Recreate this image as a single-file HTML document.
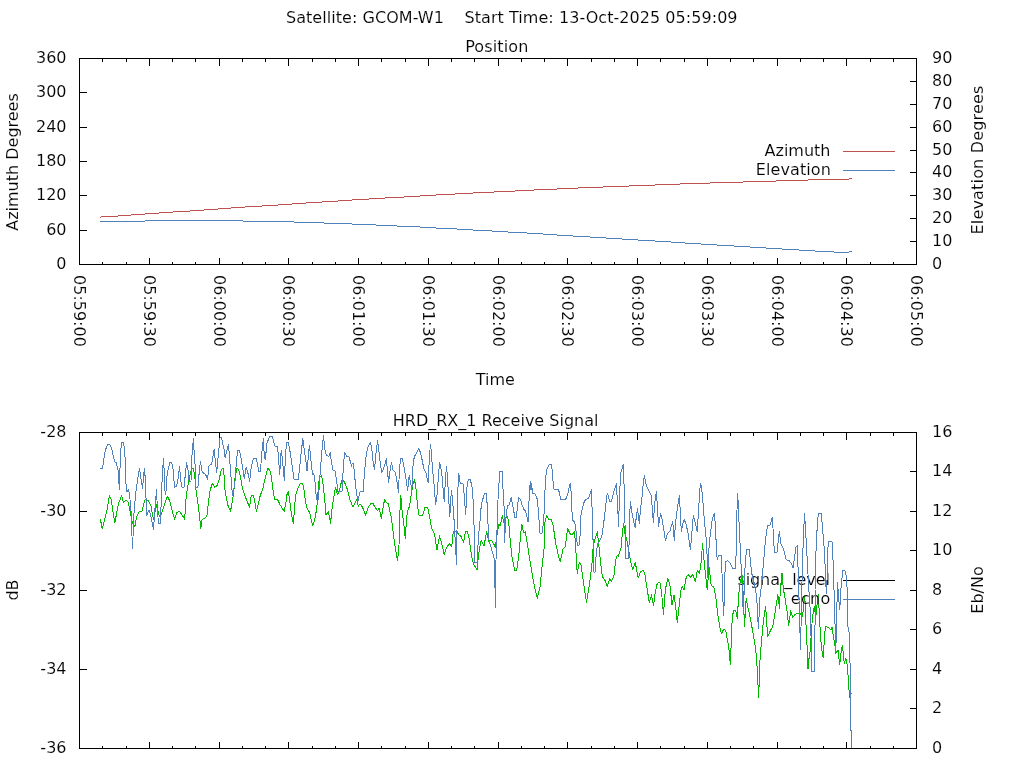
<!DOCTYPE html>
<html><head><meta charset="utf-8"><title>Satellite pass plot</title>
<style>html,body{margin:0;padding:0;background:#fff}svg{display:block}text{font-family:"DejaVu Sans","Liberation Sans",sans-serif;font-size:16px;fill:#000;stroke:#fff;stroke-width:0.12px}</style></head><body>
<svg width="1024" height="768" viewBox="0 0 1024 768">
<rect width="1024" height="768" fill="#fff"/>
<g shape-rendering="crispEdges" stroke-width="1" fill="none" transform="translate(0.5,0.5)">
<rect x="79" y="58" width="837" height="206" stroke="#000"/>
<line x1="102" y1="264" x2="102" y2="261" stroke="#000"/>
<line x1="102" y1="58" x2="102" y2="61" stroke="#000"/>
<line x1="126" y1="264" x2="126" y2="261" stroke="#000"/>
<line x1="126" y1="58" x2="126" y2="61" stroke="#000"/>
<line x1="149" y1="264" x2="149" y2="257" stroke="#000"/>
<line x1="149" y1="58" x2="149" y2="65" stroke="#000"/>
<line x1="172" y1="264" x2="172" y2="261" stroke="#000"/>
<line x1="172" y1="58" x2="172" y2="61" stroke="#000"/>
<line x1="195" y1="264" x2="195" y2="261" stroke="#000"/>
<line x1="195" y1="58" x2="195" y2="61" stroke="#000"/>
<line x1="219" y1="264" x2="219" y2="257" stroke="#000"/>
<line x1="219" y1="58" x2="219" y2="65" stroke="#000"/>
<line x1="242" y1="264" x2="242" y2="261" stroke="#000"/>
<line x1="242" y1="58" x2="242" y2="61" stroke="#000"/>
<line x1="265" y1="264" x2="265" y2="261" stroke="#000"/>
<line x1="265" y1="58" x2="265" y2="61" stroke="#000"/>
<line x1="288" y1="264" x2="288" y2="257" stroke="#000"/>
<line x1="288" y1="58" x2="288" y2="65" stroke="#000"/>
<line x1="312" y1="264" x2="312" y2="261" stroke="#000"/>
<line x1="312" y1="58" x2="312" y2="61" stroke="#000"/>
<line x1="335" y1="264" x2="335" y2="261" stroke="#000"/>
<line x1="335" y1="58" x2="335" y2="61" stroke="#000"/>
<line x1="358" y1="264" x2="358" y2="257" stroke="#000"/>
<line x1="358" y1="58" x2="358" y2="65" stroke="#000"/>
<line x1="381" y1="264" x2="381" y2="261" stroke="#000"/>
<line x1="381" y1="58" x2="381" y2="61" stroke="#000"/>
<line x1="405" y1="264" x2="405" y2="261" stroke="#000"/>
<line x1="405" y1="58" x2="405" y2="61" stroke="#000"/>
<line x1="428" y1="264" x2="428" y2="257" stroke="#000"/>
<line x1="428" y1="58" x2="428" y2="65" stroke="#000"/>
<line x1="451" y1="264" x2="451" y2="261" stroke="#000"/>
<line x1="451" y1="58" x2="451" y2="61" stroke="#000"/>
<line x1="474" y1="264" x2="474" y2="261" stroke="#000"/>
<line x1="474" y1="58" x2="474" y2="61" stroke="#000"/>
<line x1="498" y1="264" x2="498" y2="257" stroke="#000"/>
<line x1="498" y1="58" x2="498" y2="65" stroke="#000"/>
<line x1="521" y1="264" x2="521" y2="261" stroke="#000"/>
<line x1="521" y1="58" x2="521" y2="61" stroke="#000"/>
<line x1="544" y1="264" x2="544" y2="261" stroke="#000"/>
<line x1="544" y1="58" x2="544" y2="61" stroke="#000"/>
<line x1="567" y1="264" x2="567" y2="257" stroke="#000"/>
<line x1="567" y1="58" x2="567" y2="65" stroke="#000"/>
<line x1="591" y1="264" x2="591" y2="261" stroke="#000"/>
<line x1="591" y1="58" x2="591" y2="61" stroke="#000"/>
<line x1="614" y1="264" x2="614" y2="261" stroke="#000"/>
<line x1="614" y1="58" x2="614" y2="61" stroke="#000"/>
<line x1="637" y1="264" x2="637" y2="257" stroke="#000"/>
<line x1="637" y1="58" x2="637" y2="65" stroke="#000"/>
<line x1="660" y1="264" x2="660" y2="261" stroke="#000"/>
<line x1="660" y1="58" x2="660" y2="61" stroke="#000"/>
<line x1="684" y1="264" x2="684" y2="261" stroke="#000"/>
<line x1="684" y1="58" x2="684" y2="61" stroke="#000"/>
<line x1="707" y1="264" x2="707" y2="257" stroke="#000"/>
<line x1="707" y1="58" x2="707" y2="65" stroke="#000"/>
<line x1="730" y1="264" x2="730" y2="261" stroke="#000"/>
<line x1="730" y1="58" x2="730" y2="61" stroke="#000"/>
<line x1="753" y1="264" x2="753" y2="261" stroke="#000"/>
<line x1="753" y1="58" x2="753" y2="61" stroke="#000"/>
<line x1="777" y1="264" x2="777" y2="257" stroke="#000"/>
<line x1="777" y1="58" x2="777" y2="65" stroke="#000"/>
<line x1="800" y1="264" x2="800" y2="261" stroke="#000"/>
<line x1="800" y1="58" x2="800" y2="61" stroke="#000"/>
<line x1="823" y1="264" x2="823" y2="261" stroke="#000"/>
<line x1="823" y1="58" x2="823" y2="61" stroke="#000"/>
<line x1="846" y1="264" x2="846" y2="257" stroke="#000"/>
<line x1="846" y1="58" x2="846" y2="65" stroke="#000"/>
<line x1="870" y1="264" x2="870" y2="261" stroke="#000"/>
<line x1="870" y1="58" x2="870" y2="61" stroke="#000"/>
<line x1="893" y1="264" x2="893" y2="261" stroke="#000"/>
<line x1="893" y1="58" x2="893" y2="61" stroke="#000"/>
<rect x="79" y="432" width="837" height="316" stroke="#000"/>
<line x1="102" y1="748" x2="102" y2="745" stroke="#000"/>
<line x1="102" y1="432" x2="102" y2="435" stroke="#000"/>
<line x1="126" y1="748" x2="126" y2="745" stroke="#000"/>
<line x1="126" y1="432" x2="126" y2="435" stroke="#000"/>
<line x1="149" y1="748" x2="149" y2="741" stroke="#000"/>
<line x1="149" y1="432" x2="149" y2="439" stroke="#000"/>
<line x1="172" y1="748" x2="172" y2="745" stroke="#000"/>
<line x1="172" y1="432" x2="172" y2="435" stroke="#000"/>
<line x1="195" y1="748" x2="195" y2="745" stroke="#000"/>
<line x1="195" y1="432" x2="195" y2="435" stroke="#000"/>
<line x1="219" y1="748" x2="219" y2="741" stroke="#000"/>
<line x1="219" y1="432" x2="219" y2="439" stroke="#000"/>
<line x1="242" y1="748" x2="242" y2="745" stroke="#000"/>
<line x1="242" y1="432" x2="242" y2="435" stroke="#000"/>
<line x1="265" y1="748" x2="265" y2="745" stroke="#000"/>
<line x1="265" y1="432" x2="265" y2="435" stroke="#000"/>
<line x1="288" y1="748" x2="288" y2="741" stroke="#000"/>
<line x1="288" y1="432" x2="288" y2="439" stroke="#000"/>
<line x1="312" y1="748" x2="312" y2="745" stroke="#000"/>
<line x1="312" y1="432" x2="312" y2="435" stroke="#000"/>
<line x1="335" y1="748" x2="335" y2="745" stroke="#000"/>
<line x1="335" y1="432" x2="335" y2="435" stroke="#000"/>
<line x1="358" y1="748" x2="358" y2="741" stroke="#000"/>
<line x1="358" y1="432" x2="358" y2="439" stroke="#000"/>
<line x1="381" y1="748" x2="381" y2="745" stroke="#000"/>
<line x1="381" y1="432" x2="381" y2="435" stroke="#000"/>
<line x1="405" y1="748" x2="405" y2="745" stroke="#000"/>
<line x1="405" y1="432" x2="405" y2="435" stroke="#000"/>
<line x1="428" y1="748" x2="428" y2="741" stroke="#000"/>
<line x1="428" y1="432" x2="428" y2="439" stroke="#000"/>
<line x1="451" y1="748" x2="451" y2="745" stroke="#000"/>
<line x1="451" y1="432" x2="451" y2="435" stroke="#000"/>
<line x1="474" y1="748" x2="474" y2="745" stroke="#000"/>
<line x1="474" y1="432" x2="474" y2="435" stroke="#000"/>
<line x1="498" y1="748" x2="498" y2="741" stroke="#000"/>
<line x1="498" y1="432" x2="498" y2="439" stroke="#000"/>
<line x1="521" y1="748" x2="521" y2="745" stroke="#000"/>
<line x1="521" y1="432" x2="521" y2="435" stroke="#000"/>
<line x1="544" y1="748" x2="544" y2="745" stroke="#000"/>
<line x1="544" y1="432" x2="544" y2="435" stroke="#000"/>
<line x1="567" y1="748" x2="567" y2="741" stroke="#000"/>
<line x1="567" y1="432" x2="567" y2="439" stroke="#000"/>
<line x1="591" y1="748" x2="591" y2="745" stroke="#000"/>
<line x1="591" y1="432" x2="591" y2="435" stroke="#000"/>
<line x1="614" y1="748" x2="614" y2="745" stroke="#000"/>
<line x1="614" y1="432" x2="614" y2="435" stroke="#000"/>
<line x1="637" y1="748" x2="637" y2="741" stroke="#000"/>
<line x1="637" y1="432" x2="637" y2="439" stroke="#000"/>
<line x1="660" y1="748" x2="660" y2="745" stroke="#000"/>
<line x1="660" y1="432" x2="660" y2="435" stroke="#000"/>
<line x1="684" y1="748" x2="684" y2="745" stroke="#000"/>
<line x1="684" y1="432" x2="684" y2="435" stroke="#000"/>
<line x1="707" y1="748" x2="707" y2="741" stroke="#000"/>
<line x1="707" y1="432" x2="707" y2="439" stroke="#000"/>
<line x1="730" y1="748" x2="730" y2="745" stroke="#000"/>
<line x1="730" y1="432" x2="730" y2="435" stroke="#000"/>
<line x1="753" y1="748" x2="753" y2="745" stroke="#000"/>
<line x1="753" y1="432" x2="753" y2="435" stroke="#000"/>
<line x1="777" y1="748" x2="777" y2="741" stroke="#000"/>
<line x1="777" y1="432" x2="777" y2="439" stroke="#000"/>
<line x1="800" y1="748" x2="800" y2="745" stroke="#000"/>
<line x1="800" y1="432" x2="800" y2="435" stroke="#000"/>
<line x1="823" y1="748" x2="823" y2="745" stroke="#000"/>
<line x1="823" y1="432" x2="823" y2="435" stroke="#000"/>
<line x1="846" y1="748" x2="846" y2="741" stroke="#000"/>
<line x1="846" y1="432" x2="846" y2="439" stroke="#000"/>
<line x1="870" y1="748" x2="870" y2="745" stroke="#000"/>
<line x1="870" y1="432" x2="870" y2="435" stroke="#000"/>
<line x1="893" y1="748" x2="893" y2="745" stroke="#000"/>
<line x1="893" y1="432" x2="893" y2="435" stroke="#000"/>
<line x1="79" y1="230" x2="86" y2="230" stroke="#000"/>
<line x1="79" y1="195" x2="86" y2="195" stroke="#000"/>
<line x1="79" y1="161" x2="86" y2="161" stroke="#000"/>
<line x1="79" y1="127" x2="86" y2="127" stroke="#000"/>
<line x1="79" y1="92" x2="86" y2="92" stroke="#000"/>
<line x1="916" y1="241" x2="909" y2="241" stroke="#000"/>
<line x1="916" y1="218" x2="909" y2="218" stroke="#000"/>
<line x1="916" y1="195" x2="909" y2="195" stroke="#000"/>
<line x1="916" y1="172" x2="909" y2="172" stroke="#000"/>
<line x1="916" y1="150" x2="909" y2="150" stroke="#000"/>
<line x1="916" y1="127" x2="909" y2="127" stroke="#000"/>
<line x1="916" y1="104" x2="909" y2="104" stroke="#000"/>
<line x1="916" y1="81" x2="909" y2="81" stroke="#000"/>
<line x1="79" y1="669" x2="86" y2="669" stroke="#000"/>
<line x1="79" y1="590" x2="86" y2="590" stroke="#000"/>
<line x1="79" y1="511" x2="86" y2="511" stroke="#000"/>
<line x1="916" y1="708" x2="909" y2="708" stroke="#000"/>
<line x1="916" y1="669" x2="909" y2="669" stroke="#000"/>
<line x1="916" y1="629" x2="909" y2="629" stroke="#000"/>
<line x1="916" y1="590" x2="909" y2="590" stroke="#000"/>
<line x1="916" y1="550" x2="909" y2="550" stroke="#000"/>
<line x1="916" y1="511" x2="909" y2="511" stroke="#000"/>
<line x1="916" y1="471" x2="909" y2="471" stroke="#000"/>
</g>
<g opacity="0.999"><text x="511.8" y="23" text-anchor="middle" style="white-space:pre" letter-spacing="0.05">Satellite: GCOM-W1    Start Time: 13-Oct-2025 05:59:09</text>
<text x="496.8" y="52" text-anchor="middle" letter-spacing="0.12">Position</text>
<text x="495.3" y="385" text-anchor="middle">Time</text>
<text x="495.6" y="426" text-anchor="middle">HRD_RX_1 Receive Signal</text>
<text x="66.5" y="269" text-anchor="end">0</text>
<text x="66.5" y="235" text-anchor="end">60</text>
<text x="66.5" y="200" text-anchor="end">120</text>
<text x="66.5" y="166" text-anchor="end">180</text>
<text x="66.5" y="132" text-anchor="end">240</text>
<text x="66.5" y="97" text-anchor="end">300</text>
<text x="66.5" y="63" text-anchor="end">360</text>
<text x="932" y="269" text-anchor="start">0</text>
<text x="932" y="246" text-anchor="start">10</text>
<text x="932" y="223" text-anchor="start">20</text>
<text x="932" y="200" text-anchor="start">30</text>
<text x="932" y="177" text-anchor="start">40</text>
<text x="932" y="155" text-anchor="start">50</text>
<text x="932" y="132" text-anchor="start">60</text>
<text x="932" y="109" text-anchor="start">70</text>
<text x="932" y="86" text-anchor="start">80</text>
<text x="932" y="63" text-anchor="start">90</text>
<text x="66.5" y="753" text-anchor="end">-36</text>
<text x="66.5" y="674" text-anchor="end">-34</text>
<text x="66.5" y="595" text-anchor="end">-32</text>
<text x="66.5" y="516" text-anchor="end">-30</text>
<text x="66.5" y="437" text-anchor="end">-28</text>
<text x="932" y="753" text-anchor="start">0</text>
<text x="932" y="713" text-anchor="start">2</text>
<text x="932" y="674" text-anchor="start">4</text>
<text x="932" y="634" text-anchor="start">6</text>
<text x="932" y="595" text-anchor="start">8</text>
<text x="932" y="555" text-anchor="start">10</text>
<text x="932" y="516" text-anchor="start">12</text>
<text x="932" y="476" text-anchor="start">14</text>
<text x="932" y="437" text-anchor="start">16</text>
<text transform="translate(74,275) rotate(90)" text-anchor="start">05:59:00</text>
<text transform="translate(144,275) rotate(90)" text-anchor="start">05:59:30</text>
<text transform="translate(214,275) rotate(90)" text-anchor="start">06:00:00</text>
<text transform="translate(283,275) rotate(90)" text-anchor="start">06:00:30</text>
<text transform="translate(353,275) rotate(90)" text-anchor="start">06:01:00</text>
<text transform="translate(423,275) rotate(90)" text-anchor="start">06:01:30</text>
<text transform="translate(493,275) rotate(90)" text-anchor="start">06:02:00</text>
<text transform="translate(562,275) rotate(90)" text-anchor="start">06:02:30</text>
<text transform="translate(632,275) rotate(90)" text-anchor="start">06:03:00</text>
<text transform="translate(702,275) rotate(90)" text-anchor="start">06:03:30</text>
<text transform="translate(772,275) rotate(90)" text-anchor="start">06:04:00</text>
<text transform="translate(841,275) rotate(90)" text-anchor="start">06:04:30</text>
<text transform="translate(911,275) rotate(90)" text-anchor="start">06:05:00</text>
<text transform="translate(18,162) rotate(-90)" text-anchor="middle">Azimuth Degrees</text>
<text transform="translate(983,160) rotate(-90)" text-anchor="middle" letter-spacing="0.18">Elevation Degrees</text>
<text transform="translate(18,590) rotate(-90)" text-anchor="middle">dB</text>
<text transform="translate(983,590) rotate(-90)" text-anchor="middle">Eb/No</text>
<text x="830.5" y="156" text-anchor="end">Azimuth</text>
<text x="831" y="175" text-anchor="end" letter-spacing="0.1">Elevation</text>
<text x="829.8" y="585" text-anchor="end" letter-spacing="-0.08">signal_level</text></g>
<g shape-rendering="crispEdges" stroke-width="1" fill="none" transform="translate(0.5,0.5)">
<line x1="842.5" y1="151" x2="894.5" y2="151" stroke="#C0504D"/>
<line x1="842.5" y1="170" x2="894.5" y2="170" stroke="#4F81BD"/>
<line x1="842.5" y1="580" x2="894.5" y2="580" stroke="#000"/>
</g>
<g shape-rendering="crispEdges" stroke-width="1" fill="none">
<path d="M100,217.5h1M101,216.5h17M118,215.5h13M131,214.5h14M145,213.5h14M159,212.5h14M173,211.5h17M190,210.5h14M204,209.5h14M218,208.5h13M231,207.5h14M245,206.5h17M262,205.5h16M278,204.5h14M292,203.5h14M306,202.5h16M322,201.5h16M338,200.5h14M352,199.5h17M369,198.5h16M385,197.5h19M404,196.5h16M420,195.5h16M436,194.5h19M455,193.5h18M473,192.5h21M494,191.5h21M515,190.5h19M534,189.5h23M557,188.5h21M578,187.5h25M603,186.5h26M629,185.5h26M655,184.5h25M680,183.5h30M710,182.5h33M743,181.5h33M776,180.5h32M808,179.5h41M849,178.5h3" stroke="#C0504D"/>
<path d="M100,221.5h45M145,220.5h98M243,221.5h51M294,222.5h30M324,223.5h28M352,224.5h24M376,225.5h21M397,226.5h23M420,227.5h16M436,228.5h21M457,229.5h16M473,230.5h19M492,231.5h16M508,232.5h19M527,233.5h16M543,234.5h14M557,235.5h16M573,236.5h17M590,237.5h16M606,238.5h16M622,239.5h16M638,240.5h17M655,241.5h16M671,242.5h14M685,243.5h16M701,244.5h16M717,245.5h17M734,246.5h16M750,247.5h16M766,248.5h16M782,249.5h17M799,250.5h16M815,251.5h19M834,252.5h15M849,251.5h3" stroke="#4F81BD"/>
</g>
<g shape-rendering="crispEdges" stroke-width="1" fill="none">
<polyline points="100.4,519.1 102.2,529.1 104.8,518.5 106.6,512.2 108.5,501.0 109.5,496.0 111.2,499.8 112.9,511.0 114.8,522.9 116.6,513.5 118.5,503.5 121.6,495.8 123.5,502.9 126.0,499.8 127.9,501.6 129.8,509.8 132.2,522.2 134.8,526.6 136.6,517.2 139.1,511.6 142.2,511.0 144.1,502.2 145.4,499.1 148.5,501.0 151.0,506.0 153.5,519.8 155.4,509.8 157.0,504.1 158.5,514.1 160.4,517.2 162.9,509.8 164.8,503.5 167.2,496.0 169.8,501.0 172.2,511.0 174.5,519.1 176.6,512.9 179.1,511.0 181.6,514.1 184.5,519.1 185.4,509.8 186.2,496.0 187.9,486.0 189.8,476.0 191.6,469.1 193.5,468.5 194.8,477.2 196.0,489.8 197.9,503.5 199.8,518.5 200.8,528.5 202.2,519.1 204.8,518.5 207.0,515.4 208.5,501.0 210.0,491.0 212.2,483.5 214.8,487.2 216.6,486.6 219.1,479.8 221.0,471.0 222.2,468.8 223.5,468.8 224.0,475.0 225.2,492.5 227.8,505.0 230.5,511.2 232.8,499.4 234.0,488.8 235.2,476.2 237.1,468.1 239.0,470.6 240.9,479.4 242.5,488.8 244.6,495.0 247.1,501.2 249.6,507.5 251.2,495.6 253.4,495.0 254.6,501.2 256.5,511.2 258.4,503.8 260.2,495.6 262.8,488.8 265.2,478.1 267.8,468.5 270.0,470.6 271.5,476.9 272.8,488.8 274.6,499.4 277.8,500.0 280.2,505.0 284.2,511.2 285.9,502.5 287.1,493.8 288.4,491.2 289.6,500.0 291.5,515.0 293.4,523.1 294.6,507.5 295.5,495.0 297.8,488.8 300.2,483.8 302.8,483.5 304.0,490.0 305.2,500.0 307.1,508.8 309.6,512.5 311.5,521.2 312.8,525.6 314.6,520.0 316.5,510.0 317.5,501.2 318.4,485.0 319.6,477.5 321.5,475.6 322.8,482.5 324.0,492.5 325.2,505.0 325.9,515.0 328.4,511.9 329.6,517.5 330.6,523.1 331.8,510.0 333.4,500.0 335.5,487.5 337.5,495.0 339.6,490.0 341.5,481.2 342.8,479.4 344.6,482.5 347.1,488.8 349.6,498.8 351.8,503.8 352.0,505.0 353.2,506.9 355.1,502.5 357.0,499.4 358.2,506.2 360.1,503.8 362.6,507.5 365.5,515.0 368.2,507.5 370.8,503.5 373.0,503.5 375.1,507.5 377.6,510.6 379.2,508.1 381.4,518.8 382.6,510.0 384.5,500.0 386.4,502.5 388.5,503.8 389.5,510.0 391.4,517.5 392.0,523.3 394.5,543.3 397.5,561.0 399.0,545.0 400.0,510.0 400.8,495.8 402.0,510.0 403.7,523.3 405.3,538.3 406.7,516.7 408.3,508.3 409.5,506.7 411.2,495.0 412.8,485.0 414.5,479.7 415.8,486.7 417.0,500.0 418.7,515.0 422.8,515.0 425.0,507.5 427.8,507.5 429.5,516.7 431.7,528.3 432.0,529.2 434.5,534.2 437.0,550.0 439.5,535.8 442.0,545.0 444.2,554.2 447.0,546.7 450.0,543.7 451.7,546.7 453.3,531.7 457.0,531.3 458.7,535.0 460.7,535.8 463.7,542.5 465.3,531.7 467.3,531.3 469.0,538.3 472.0,558.3 473.7,564.2 477.0,570.0 478.7,553.3 481.2,540.0 484.0,545.8 486.7,531.7 488.7,541.7 491.2,540.0 493.7,543.7 495.3,547.5 497.3,533.3 498.7,524.2 500.3,525.8 502.3,515.8 504.0,523.3 507.0,515.8 508.7,521.7 510.3,541.7 512.0,556.7 514.5,570.0 516.7,570.0 518.7,556.7 520.3,538.3 521.7,524.2 523.7,532.5 525.3,531.7 527.3,543.3 529.5,558.3 532.0,573.3 534.5,586.7 537.3,598.3 540.0,586.7 542.0,566.7 544.5,545.0 544.8,523.3 546.5,515.8 548.7,519.2 551.5,520.0 553.2,525.8 555.7,543.3 558.2,555.0 560.3,561.7 563.2,548.3 565.3,547.0 566.5,536.7 567.7,528.0 569.8,533.7 572.0,534.7 574.3,531.7 575.7,545.0 576.5,564.2 577.3,573.3 579.3,562.5 581.0,565.0 583.2,580.0 584.8,591.7 586.5,602.5 589.0,586.7 590.7,575.0 592.3,560.0 593.2,546.7 595.3,538.3 597.3,531.7 599.0,546.7 600.7,563.3 602.3,576.7 604.8,580.0 607.3,586.3 609.8,578.3 611.5,581.7 614.0,575.0 615.7,560.0 617.3,555.0 618.2,556.7 621.0,548.3 622.3,533.3 623.7,523.3 624.8,533.3 627.0,540.8 629.0,552.5 630.7,561.7 632.7,570.0 635.3,562.5 636.5,569.2 638.2,577.5 640.7,571.7 643.2,570.3 644.8,573.3 646.5,585.0 649.3,602.5 651.5,595.0 653.5,605.8 655.3,591.7 657.3,583.3 659.8,582.2 661.5,591.7 663.5,614.2 665.3,590.0 667.7,578.3 669.8,584.2 671.5,600.0 672.0,605.0 674.0,595.0 675.7,606.7 677.3,622.5 679.0,606.7 681.2,588.3 682.3,586.7 684.0,590.0 686.2,577.5 688.3,574.2 690.3,577.5 692.8,574.7 695.3,581.7 697.3,570.8 699.5,573.3 701.2,561.7 702.5,543.7 703.7,556.7 705.3,573.3 707.3,590.0 709.0,566.7 711.2,585.8 713.7,586.7 715.7,596.7 717.8,615.0 720.3,630.0 721.7,633.3 723.7,629.2 725.7,630.8 727.8,641.7 729.5,653.3 730.3,665.0 731.2,643.3 732.0,623.3 733.3,610.8 735.7,610.0 737.3,618.3 738.7,595.0 740.0,583.3 742.0,575.0 743.3,595.0 744.5,626.7 746.2,598.3 747.8,606.7 750.3,618.3 752.8,631.7 755.3,646.7 756.7,660.0 758.1,686.7 758.7,697.5 759.2,680 760.0,660.0 761.2,645.0 762.8,626.7 764.5,613.3 765.7,606.7 766.7,623.3 767.8,636.7 770.3,630.8 772.8,626.7 775.0,613.3 777.8,594.2 779.5,608.3 780.3,590.0 782.0,574.2 783.3,588.3 785.3,600.0 787.3,613.3 788.7,625.8 790.7,610.8 792.8,617.5 795.3,614.2 800.0,613.3 802.5,616.7 803.7,605.0 804.7,596.7 805.3,605.0 806.3,633.3 807.5,653.3 808.0,669.2 809.2,656.7 810.3,650.0 811.3,633.3 812.5,616.7 814.2,606.7 815.8,616.7 817.0,605.0 818.3,594.2 819.7,621.7 820.8,640.0 822.5,655.0 823.3,657.5 824.7,633.3 825.8,626.3 828.3,627.5 830.8,630.0 832.0,626.7 833.3,636.7 834.7,643.3 835.8,653.3 838.0,650.0 839.7,665.0 841.3,650.0 842.5,645.8 844.2,663.3 845.8,658.3 847.5,666.7 848.7,686.7 849.7,697.5 851.3,693.3" stroke="#00BA00" stroke-linejoin="round"/>
</g>
<g opacity="0.999"><text x="830.6" y="604" text-anchor="end" letter-spacing="0.3">ecno</text></g>
<g shape-rendering="crispEdges" stroke-width="1" fill="none">
<path d="M843,599.5h52" stroke="#4F81BD"/>
<polyline points="100.4,468.5 102.5,468.5 103.8,459.8 105.4,449.8 107.9,444.5 109.8,444.5 111.6,448.5 114.5,461.6 116.0,462.5 117.9,468.5 119.4,489.1 120.4,454.8 121.6,442.2 123.5,442.2 124.8,451.0 126.0,483.5 127.0,492.2 128.2,489.8 129.5,493.5 131.0,511.0 132.5,548.5 134.1,511.0 135.8,492.2 137.2,482.2 139.5,468.5 141.0,478.5 142.5,488.5 144.4,468.5 145.4,479.8 146.6,515.4 149.1,509.8 151.0,517.2 153.5,529.1 154.8,511.0 156.5,489.8 157.5,511.0 158.5,523.5 160.4,523.5 161.6,491.0 162.6,469.8 163.5,458.5 164.1,469.8 165.0,491.0 165.8,494.8 167.2,473.5 169.8,462.9 171.6,462.2 173.2,469.8 174.5,487.2 176.6,486.0 177.9,479.8 179.5,466.6 181.0,482.2 182.0,487.2 184.1,487.2 185.4,473.5 186.6,462.9 187.9,468.5 189.1,481.0 191.0,481.0 192.2,449.8 193.5,438.5 194.1,452.2 194.8,452.2 195.4,487.2 197.9,487.2 199.1,473.5 200.4,461.0 202.2,472.2 205.4,474.1 207.5,479.1 209.1,465.4 211.6,464.1 214.1,449.1 216.6,472.9 219.1,447.2 219.8,438.5 221.0,437.2 222.2,441.0 223.5,447.9 224.0,448.8 225.2,458.1 226.8,450.6 228.4,444.4 229.2,453.1 230.5,470.0 231.5,483.8 232.5,495.6 234.2,487.5 235.2,480.0 236.5,458.8 237.8,450.6 239.6,450.6 241.2,459.4 242.8,468.1 244.2,478.8 246.2,466.9 247.8,472.5 249.6,481.2 250.9,470.0 252.5,461.2 254.0,458.5 256.2,458.5 257.5,463.8 258.8,471.2 260.5,471.2 261.5,456.2 263.4,438.8 264.2,455.0 265.2,460.0 267.1,442.5 269.6,436.9 272.1,436.2 273.4,440.6 274.6,446.0 277.1,446.2 278.4,455.0 279.6,475.0 281.2,450.6 282.5,460.0 284.4,481.0 285.5,453.8 286.8,442.5 288.4,442.5 289.6,448.8 291.5,461.2 294.0,479.4 298.4,479.4 299.6,467.5 301.2,452.5 302.8,438.8 304.0,447.5 305.9,461.2 307.1,471.2 308.4,455.0 309.4,445.0 310.2,452.5 311.5,466.2 312.8,475.0 313.8,473.8 315.2,483.8 316.5,499.4 318.4,499.4 319.6,480.0 320.9,463.8 322.1,448.8 323.6,435.0 324.6,448.8 326.5,455.6 328.8,456.2 330.2,452.5 331.5,462.5 332.8,470.0 335.0,470.6 336.5,480.0 337.8,491.2 342.1,491.2 343.4,465.0 344.6,452.5 346.5,456.2 349.0,456.9 350.2,461.2 351.5,466.2 352.0,463.8 353.5,463.1 354.8,477.5 356.4,492.5 358.0,501.2 359.8,492.5 361.0,491.2 363.2,491.2 364.5,472.5 365.8,458.8 367.6,447.5 370.5,442.5 371.8,448.8 373.2,462.5 374.5,469.4 375.8,455.0 377.6,440.6 378.9,451.2 380.5,465.0 381.8,472.5 383.9,467.5 386.4,458.8 387.0,466.2 388.6,482.5 390.1,470.0 391.4,462.5 393.0,470.0 395.1,471.9 396.4,477.5 398.5,492.5 399.5,467.5 400.8,458.5 402.2,458.5 403.9,466.2 405.8,477.5 407.6,490.6 409.2,475.6 410.8,483.8 411.8,491.2 413.2,462.5 414.5,456.2 416.4,453.8 418.6,448.5 420.5,452.5 422.0,459.4 423.9,468.8 425.8,472.5 428.2,482.5 429.5,455.0 430.5,444.4 431.4,451.9 432.2,465.0 433.2,476.2 434.5,488.8 435.5,505.0 437.0,495.0 438.2,480.0 439.5,462.5 440.8,467.5 442.0,476.2 444.2,501.2 445.1,485.0 446.4,466.2 447.6,477.5 448.2,491.2 449.8,516.2 451.4,490.0 452.6,500.0 453.9,517.5 455.0,536.7 456.5,564.2 457.5,496.7 458.7,473.3 460.3,483.3 463.3,484.2 465.7,515.0 467.0,486.7 468.3,479.2 470.3,479.2 472.3,488.3 473.7,510.0 474.8,562.5 477.3,562.5 478.3,538.3 480.0,521.2 480.6,511.2 481.9,502.5 484.4,493.5 486.2,493.5 487.2,504.4 488.1,526.2 489.0,540.0 494.6,560 495.3,608 496,560 496.9,536.0 497.5,508.8 498.8,485.0 500.0,471.5 502.5,471.5 502.9,488.8 503.8,490.0 504.5,543 505.6,521.2 506.5,512.5 507.5,505.6 509.4,505.0 511.2,497.5 512.8,506.2 515.0,517.5 516.5,517.2 517.5,505.0 518.8,497.5 520.6,500.0 522.5,506.2 524.0,509.4 525.6,511.2 528.1,521.9 529.4,492.5 530.4,481.2 531.0,490.0 531.5,483.1 532.5,493.1 535.0,493.8 536.9,497.5 538.1,508.1 539.4,525.0 540.0,533.1 542.2,533.1 543.1,525.0 544.4,510.0 545.2,483.8 546.5,470.0 549.4,464.4 551.5,464.4 552.5,472.5 553.5,488.8 555.0,489.4 558.1,489.4 559.4,492.5 560.6,499.4 565.6,499.4 567.5,495.0 569.4,486.2 570.2,483.8 571.2,493.1 571.9,511.2 573.1,521.2 574.4,521.9 575.6,526.2 577.3,545 579.3,545 580.0,536.0 581.0,515.0 582.5,507.5 584.4,501.2 586.2,499.4 588.8,498.1 590.0,493.8 591.5,489.4 592.1,510.0 593.2,545 593.7,572 595.3,572 596,556.7 597.3,545 601.9,536.0 603.1,527.5 604.4,517.5 605.6,507.5 606.9,495.0 607.8,493.5 608.0,495.0 609.7,501.3 611.3,501.3 613.8,491.7 616.3,483.7 617.7,506.7 618.5,526.7 619.7,490.0 621.0,471.7 623.3,464.7 624.2,488.3 625.0,523.3 625.5,558.3 628.8,558.3 629.2,533.3 629.7,513.3 630.5,501.7 632.2,515.0 635.2,527.5 636.3,516.7 637.5,508.3 639.3,523.3 640.5,510.0 642.2,495.0 643.3,483.3 644.3,475.8 646.0,484.2 648.0,489.2 651.0,495.0 652.2,506.7 653.3,522.5 654.7,503.3 656.3,491.7 657.5,506.7 658.5,526.7 660.5,513.3 662.2,520.0 663.8,530.0 665.5,540.8 667.2,534.2 670.0,530.8 672.7,521.7 674.3,540.8 675.5,523.3 677.2,510.0 679.3,495.8 680.2,510.0 681.3,531.7 683.0,523.3 684.3,519.7 686.3,525.0 688.0,533.3 690.5,550.0 691.8,533.3 693.3,515.8 695.0,521.7 697.2,531.7 698.8,506.7 699.7,490.0 700.7,483.3 702.2,493.3 703.3,506.7 704.3,520.0 706.0,536.7 707.2,556.7 707.7,577.5 708.5,553.3 710.0,536.7 712.2,520.0 714.3,513.3 715.5,526.7 716.3,546.7 717.2,560.0 718.7,555.0 721.2,555.0 722.0,573.3 722.8,598.3 723.7,615.8 724.5,590.0 725.3,561.7 727.8,560.8 730.3,563.3 732.8,568.3 735.3,568.3 736.2,553.3 737.0,510.0 737.7,493.3 738.7,515.0 739.7,536.7 740.8,560.0 742.0,583.3 743.3,614.2 744.2,590.0 745.3,560.0 746.7,549.7 749.2,549.7 750.3,560.0 751.7,573.3 754.2,583.3 756.7,596.7 758.4,629 760.0,596.7 761.7,583.3 763.3,565.0 765.0,545.0 766.7,530.0 768.0,525.3 770.3,525.0 772.2,517.5 773.0,528.3 773.7,543.3 774.7,552.5 777.0,552.5 778.3,540.0 779.3,531.7 780.8,543.3 783.3,548.3 786.3,559.7 789.2,560.8 791.7,564.2 793.0,568.0 794.2,560.0 795.8,547.5 797.2,545.5 798.0,566.7 800.5,649.5 802.5,560.0 803.7,531.7 804.5,513.3 805.3,525.0 806.3,543.3 807.5,565.0 808.7,586.7 810.0,606.7 811.5,650 811.7,671.3 814.2,671.3 814.7,641.7 815.2,616.7 815.0,590.0 816.3,540.0 818.3,513.3 821.3,513.3 822.5,528.3 824.2,548.3 825.3,570.0 826.3,593.3 827.2,576.7 828.0,546.7 828.8,541.3 832.0,541.3 833.0,560.0 834.2,595.0 835.8,651.7 837.5,582.5 838.3,593.3 839.7,610 841.3,583.3 843.0,570.3 845.0,570.8 846.3,576.7 847.5,593.3 848,626.7 849.2,633.3 849.2,661.7 850,663.3 850,697.5 850.4,730.6 851.5,731 851.5,748" stroke="#4F81BD" stroke-linejoin="round"/>
</g>
</svg>
</body></html>
